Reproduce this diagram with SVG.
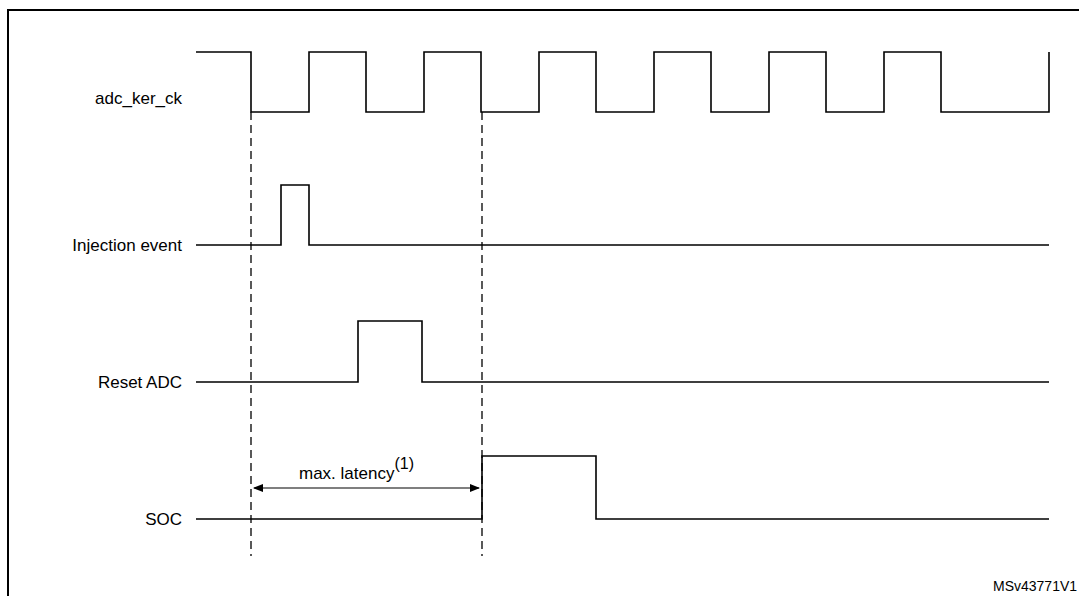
<svg xmlns="http://www.w3.org/2000/svg" width="1079" height="596" viewBox="0 0 1079 596">
<style>
.w{fill:none;stroke:#000;stroke-width:1.6}
.d{fill:none;stroke:#000;stroke-width:1.3;stroke-dasharray:8,5}
.l{font-family:"Liberation Sans",Arial,sans-serif;font-size:17px;fill:#000}
</style>
<defs>
<marker id="a" markerWidth="10" markerHeight="8" refX="9" refY="4" orient="auto-start-reverse" markerUnits="userSpaceOnUse"><path d="M0,0L10,4L0,8z" fill="#000"/></marker>
</defs>
<rect width="1079" height="596" fill="#fff"/>
<path d="M8,596V10H1079" fill="none" stroke="#000" stroke-width="2"/>
<g id="adc_ker_ck">
<text class="l" x="182" y="104" text-anchor="end">adc_ker_ck</text>
<path class="w" d="M196,52H251V112H309V52H366V112H424V52H481V112H539V52H596V112H654V52H711V112H769V52H826V112H884V52H941V112H1049V52"/>
</g>
<g id="injection">
<text class="l" x="182" y="251" text-anchor="end">Injection event</text>
<path class="w" d="M196,245H281V185H309V245H1049"/>
</g>
<g id="reset">
<text class="l" x="182" y="388" text-anchor="end">Reset ADC</text>
<path class="w" d="M196,382H358V321H422V382H1049"/>
</g>
<g id="soc">
<text class="l" x="182" y="525" text-anchor="end">SOC</text>
<path class="w" d="M196,519H482V456H596V519H1049"/>
</g>
<g id="connectors">
<path class="d" d="M251,112V556M482,112V556"/>
<path d="M254,488H479" fill="none" stroke="#000" stroke-width="1.2" marker-start="url(#a)" marker-end="url(#a)"/>
<text class="l" x="299" y="479">max. latency<tspan dy="-10" font-size="16">(1)</tspan></text>
</g>
<text x="993" y="591" style="font-family:'Liberation Sans',Arial,sans-serif;font-size:14px">MSv43771V1</text>
</svg>
